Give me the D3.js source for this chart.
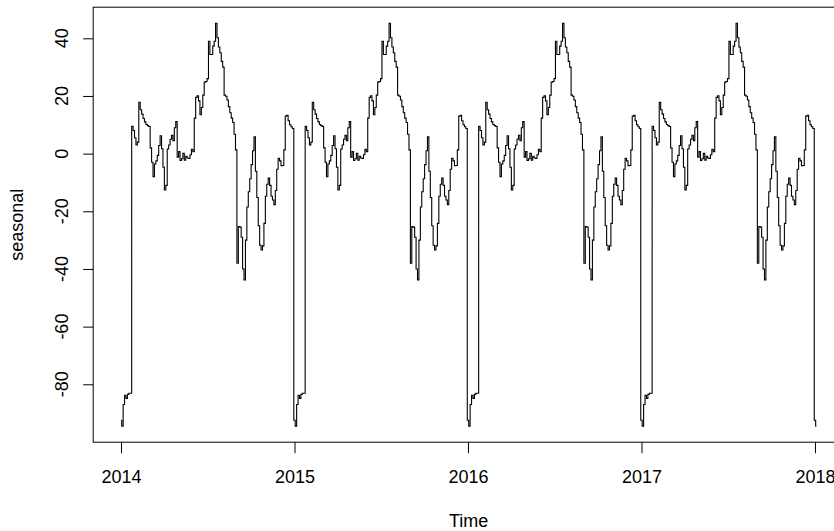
<!DOCTYPE html>
<html>
<head>
<meta charset="utf-8">
<script src="https://cdn.jsdelivr.net/npm/d3@7/dist/d3.min.js"></script>
<style>
  html, body { margin: 0; padding: 0; background: #fff; }
  svg { display: block; font-family: "Liberation Sans", Arial, Helvetica, sans-serif; }
</style>
</head>
<body>
<svg id="chart" width="834" height="531"></svg>
<script>
// Seasonal figure: one full period of the seasonal component (122 samples per year)
const seasonalFigure = [
  -92.5, -94.5, -87.0, -83.8, -84.9, -83.5, -83.1, -83.1, 9.5, 8.0,
  5.5, 3.0, 4.0, 17.8, 15.2, 13.7, 12.2, 11.0, 10.1, 9.7,
  9.4, 2.0, -3.0, -8.0, -3.6, -2.5, -0.6, 2.8, 6.2, 1.7,
  -4.7, -12.6, -11.0, 1.6, 3.0, 5.0, 6.4, 4.5, 9.0, 11.1,
  -1.2, 0.7, -2.4, -1.8, 0.1, -2.3, -0.9, -1.5, -1.7, -0.4,
  1.5, 0.7, 12.3, 19.5, 20.1, 18.3, 13.5, 16.0, 20.3, 24.8,
  25.0, 26.0, 39.0, 34.4, 34.4, 37.3, 39.0, 45.2, 40.2, 37.0,
  35.0, 32.0, 30.0, 20.3, 19.9, 18.6, 16.3, 14.2, 12.3, 10.8,
  6.7, 1.3, -38.0, -25.3, -25.5, -29.0, -40.0, -43.8, -30.0, -18.5,
  -13.2, -8.7, -3.8, 1.0, 5.8, -6.1, -15.2, -25.0, -31.8, -33.4,
  -32.0, -24.2, -14.8, -10.6, -8.5, -11.0, -14.8, -16.1, -17.7, -12.8,
  -5.4, -1.6, -2.5, -4.2, -4.1, 1.3, 13.0, 13.3, 11.4, 10.0,
  9.3, 8.7
];
const samplesPerYear = 122;
const startYear = 2014;
const fullYears = 4;
const extraSamples = 2;          // the series runs a couple of samples into 2018

const xTickValues = [2014, 2015, 2016, 2017, 2018];
const yTickValues = [-80, -60, -40, -20, 0, 20, 40];
const xLabel = "Time";
const yLabel = "seasonal";

// The seasonal component repeats its figure every year
const nObs = fullYears * samplesPerYear + extraSamples;
const series = d3.range(nObs).map(i => ({
  t: startYear + i / samplesPerYear,
  v: seasonalFigure[i % samplesPerYear]
}));

// Plot region
const plotLeft = 93.2, plotRight = 844.2, plotTop = 7.2, plotBottom = 442.2;

// Axis limits padded by 4% on each side
const tExt = d3.extent(series, d => d.t);
const vExt = d3.extent(series, d => d.v);
const tPad = (tExt[1] - tExt[0]) * 0.04;
const vPad = (vExt[1] - vExt[0]) * 0.04;

const x = d3.scaleLinear().domain([tExt[0] - tPad, tExt[1] + tPad]).range([plotLeft, plotRight]);
const y = d3.scaleLinear().domain([vExt[0] - vPad, vExt[1] + vPad]).range([plotBottom, plotTop]);

const svg = d3.select("#chart");

// Series line (daily values hold flat between changes, so draw as steps)
svg.append("path")
  .datum(series)
  .attr("fill", "none")
  .attr("stroke", "#000")
  .attr("stroke-width", 1.1)
  .attr("stroke-linejoin", "miter")
  .attr("d", d3.line().curve(d3.curveStep).x(d => x(d.t)).y(d => y(d.v)));

// Frame
svg.append("rect")
  .attr("x", plotLeft).attr("y", plotTop)
  .attr("width", plotRight - plotLeft).attr("height", plotBottom - plotTop)
  .attr("fill", "none").attr("stroke", "#000").attr("stroke-width", 1);

// Bottom axis
const xAxis = svg.append("g")
  .attr("transform", `translate(0,${plotBottom})`)
  .call(d3.axisBottom(x).tickValues(xTickValues).tickSize(11).tickPadding(17).tickFormat(d3.format("d")));
xAxis.select(".domain").remove();
xAxis.selectAll("line").attr("stroke", "#000");
xAxis.selectAll("text")
  .attr("font-size", 18)
  .attr("font-family", "Liberation Sans, Arial, sans-serif")
  .attr("fill", "#000");

// Left axis (labels drawn parallel to the axis)
const yAxis = svg.append("g")
  .attr("transform", `translate(${plotLeft},0)`)
  .call(d3.axisLeft(y).tickValues(yTickValues).tickSize(10).tickFormat(""));
yAxis.select(".domain").remove();
yAxis.selectAll("line").attr("stroke", "#000");

svg.append("g").selectAll("text")
  .data(yTickValues)
  .join("text")
  .attr("transform", d => `translate(68,${y(d)}) rotate(-90)`)
  .attr("text-anchor", "middle")
  .attr("font-size", 18)
  .attr("fill", "#000")
  .text(d => d);

// Axis titles
svg.append("text")
  .attr("x", (plotLeft + plotRight) / 2)
  .attr("y", 527)
  .attr("text-anchor", "middle")
  .attr("font-size", 18)
  .attr("fill", "#000")
  .text(xLabel);

svg.append("text")
  .attr("transform", `translate(23,${(plotTop + plotBottom) / 2}) rotate(-90)`)
  .attr("text-anchor", "middle")
  .attr("font-size", 18)
  .attr("fill", "#000")
  .text(yLabel);
</script>
</body>
</html>
